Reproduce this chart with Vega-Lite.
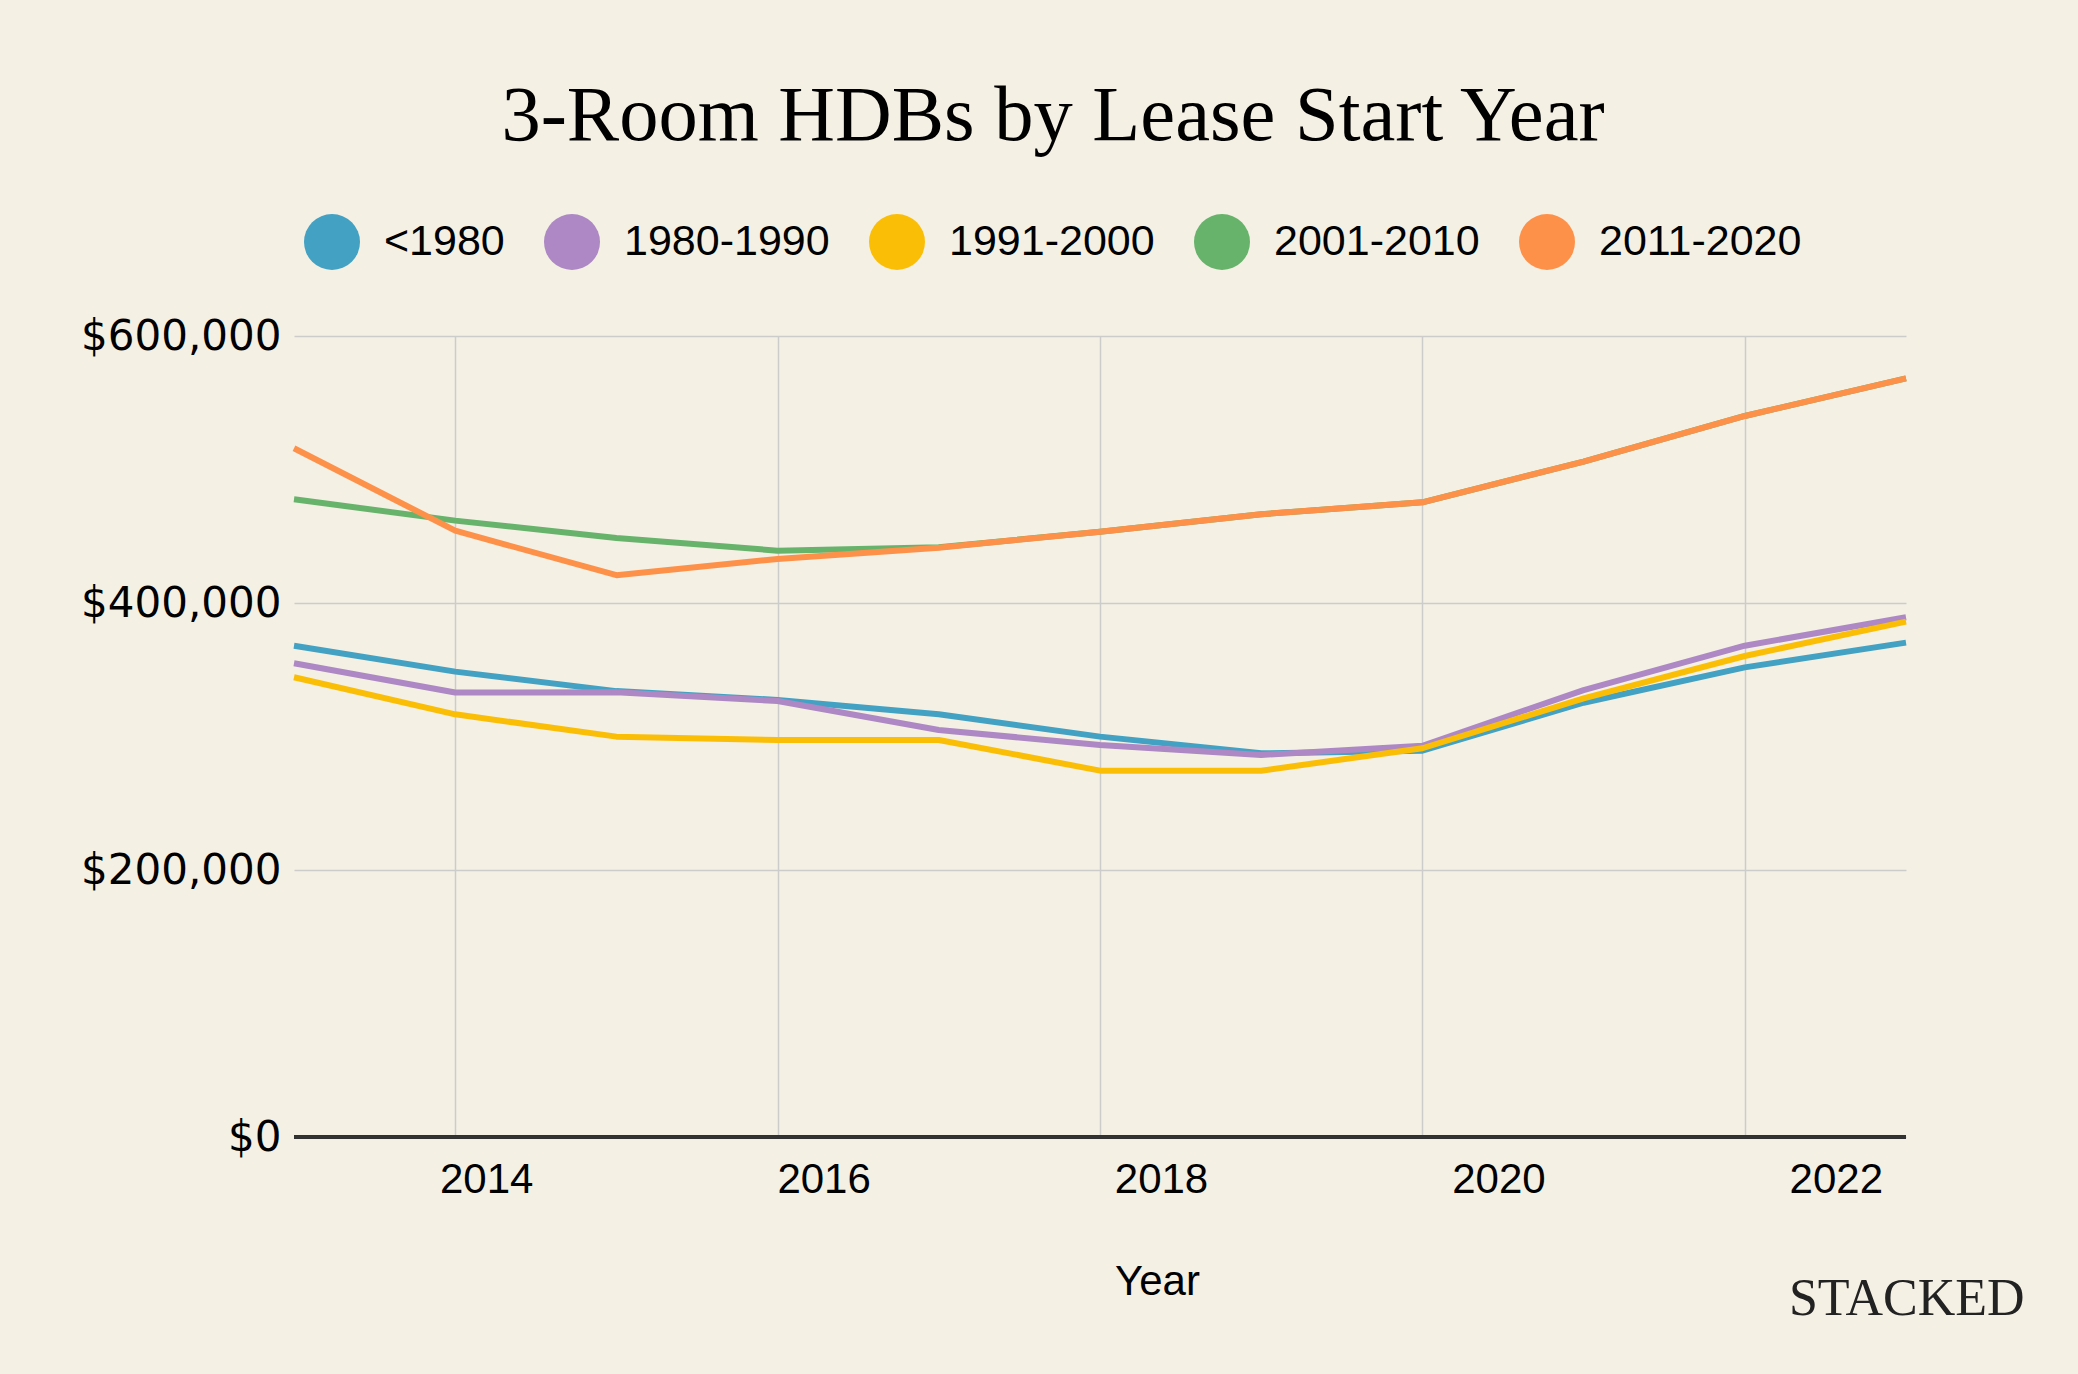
{
  "$schema": "https://vega.github.io/schema/vega-lite/v6.json",
  "width": 1612,
  "height": 801,
  "autosize": {"type": "none"},
  "padding": {"left": 294, "top": 336, "right": 172, "bottom": 237},
  "background": "#f4f0e4",
  "config": {
    "view": {"stroke": null},
    "font": "Liberation Sans"
  },
  "title": {
    "text": "3-Room HDBs by Lease Start Year",
    "font": "Liberation Serif",
    "fontSize": 78.5,
    "fontWeight": "normal",
    "color": "#000000",
    "anchor": "middle",
    "frame": "group",
    "dx": -47,
    "offset": 58
  },
  "data": {
    "values": [
      {"year": 2013, "group": "<1980", "price": 368000},
      {"year": 2014, "group": "<1980", "price": 348600},
      {"year": 2015, "group": "<1980", "price": 334000},
      {"year": 2016, "group": "<1980", "price": 327400},
      {"year": 2017, "group": "<1980", "price": 316600},
      {"year": 2018, "group": "<1980", "price": 299900},
      {"year": 2019, "group": "<1980", "price": 287400},
      {"year": 2020, "group": "<1980", "price": 289400},
      {"year": 2021, "group": "<1980", "price": 325300},
      {"year": 2022, "group": "<1980", "price": 351800},
      {"year": 2023, "group": "<1980", "price": 370300},
      {"year": 2013, "group": "1980-1990", "price": 354900},
      {"year": 2014, "group": "1980-1990", "price": 333000},
      {"year": 2015, "group": "1980-1990", "price": 333100},
      {"year": 2016, "group": "1980-1990", "price": 326600},
      {"year": 2017, "group": "1980-1990", "price": 304900},
      {"year": 2018, "group": "1980-1990", "price": 293600},
      {"year": 2019, "group": "1980-1990", "price": 286200},
      {"year": 2020, "group": "1980-1990", "price": 293100},
      {"year": 2021, "group": "1980-1990", "price": 334800},
      {"year": 2022, "group": "1980-1990", "price": 368000},
      {"year": 2023, "group": "1980-1990", "price": 389300},
      {"year": 2013, "group": "1991-2000", "price": 344400},
      {"year": 2014, "group": "1991-2000", "price": 316600},
      {"year": 2015, "group": "1991-2000", "price": 299900},
      {"year": 2016, "group": "1991-2000", "price": 297400},
      {"year": 2017, "group": "1991-2000", "price": 297400},
      {"year": 2018, "group": "1991-2000", "price": 274400},
      {"year": 2019, "group": "1991-2000", "price": 274400},
      {"year": 2020, "group": "1991-2000", "price": 291200},
      {"year": 2021, "group": "1991-2000", "price": 328600},
      {"year": 2022, "group": "1991-2000", "price": 360300},
      {"year": 2023, "group": "1991-2000", "price": 386000},
      {"year": 2013, "group": "2001-2010", "price": 477700},
      {"year": 2014, "group": "2001-2010", "price": 461700},
      {"year": 2015, "group": "2001-2010", "price": 448700},
      {"year": 2016, "group": "2001-2010", "price": 439200},
      {"year": 2017, "group": "2001-2010", "price": 441700},
      {"year": 2018, "group": "2001-2010", "price": 453400},
      {"year": 2019, "group": "2001-2010", "price": 466500},
      {"year": 2020, "group": "2001-2010", "price": 475400},
      {"year": 2021, "group": "2001-2010", "price": 505900},
      {"year": 2022, "group": "2001-2010", "price": 540100},
      {"year": 2023, "group": "2001-2010", "price": 568300},
      {"year": 2013, "group": "2011-2020", "price": 515900},
      {"year": 2014, "group": "2011-2020", "price": 454200},
      {"year": 2015, "group": "2011-2020", "price": 420800},
      {"year": 2016, "group": "2011-2020", "price": 433000},
      {"year": 2017, "group": "2011-2020", "price": 441400},
      {"year": 2018, "group": "2011-2020", "price": 453400},
      {"year": 2019, "group": "2011-2020", "price": 466500},
      {"year": 2020, "group": "2011-2020", "price": 475400},
      {"year": 2021, "group": "2011-2020", "price": 505900},
      {"year": 2022, "group": "2011-2020", "price": 540100},
      {"year": 2023, "group": "2011-2020", "price": 568300}
    ]
  },
  "layer": [
    {
      "mark": {"type": "line", "strokeWidth": 6, "strokeJoin": "round"},
      "encoding": {
        "x": {
          "field": "year",
          "type": "quantitative",
          "scale": {"domain": [2013, 2023], "nice": false, "zero": false},
          "axis": {
            "values": [2014, 2016, 2018, 2020, 2022],
            "format": "d",
            "grid": true,
            "gridColor": "#cccccc",
            "gridWidth": 1.5,
            "domain": false,
            "ticks": false,
            "tickSize": 0,
            "labelFont": "Liberation Sans",
            "labelFontSize": 42,
            "labelColor": "#000000",
            "labelPadding": 22,
            "labelFlush": false,
            "labelOffset": {"expr": "31 + 7.5 * (datum.value - 2014)"},
            "title": "Year",
            "titleFont": "Liberation Sans",
            "titleFontSize": 42,
            "titleFontWeight": "normal",
            "titleColor": "#000000",
            "titleX": 863,
            "titleY": 157,
            "titleAlign": "center",
            "titleBaseline": "alphabetic"
          }
        },
        "y": {
          "field": "price",
          "type": "quantitative",
          "scale": {"domain": [0, 600000], "nice": false},
          "axis": {
            "values": [0, 200000, 400000, 600000],
            "format": "$,.0f",
            "grid": true,
            "gridColor": "#cccccc",
            "gridWidth": 1.5,
            "domain": false,
            "ticks": false,
            "tickSize": 0,
            "labelFont": "DejaVu Sans",
            "labelFontSize": 42,
            "labelColor": "#000000",
            "labelPadding": 13,
            "labelLimit": 400,
            "labelBaseline": "middle",
            "title": null
          }
        },
        "color": {
          "field": "group",
          "type": "nominal",
          "scale": {
            "domain": ["<1980", "1980-1990", "1991-2000", "2001-2010", "2011-2020"],
            "range": ["#43a1c3", "#ad88c4", "#fbbe07", "#67b36b", "#fe914a"]
          },
          "legend": {
            "title": null,
            "orient": "none",
            "direction": "horizontal",
            "legendX": 10,
            "legendY": -122,
            "padding": 0,
            "symbolType": "circle",
            "symbolSize": 3136,
            "symbolStrokeWidth": 0,
            "symbolOpacity": 1,
            "labelFont": "Liberation Sans",
            "labelFontSize": 43,
            "labelColor": "#000000",
            "labelOffset": 24,
            "columnPadding": 39,
            "labelLimit": 400,
            "encode": {
              "symbols": {
                "update": {
                  "fill": {"scale": "color", "field": "value"},
                  "fillOpacity": {"value": 1}
                }
              }
            }
          }
        }
      }
    },
    {
      "mark": {"type": "rule", "color": "#333333", "strokeWidth": 2.5},
      "encoding": {
        "y": {
          "datum": 0,
          "type": "quantitative",
          "scale": {"domain": [0, 600000], "nice": false},
          "axis": {
            "orient": "right",
            "labels": false,
            "ticks": false,
            "domain": false,
            "grid": false,
            "title": "STACKED",
            "titleAngle": 0,
            "titleFont": "Liberation Serif",
            "titleFontSize": 52,
            "titleFontWeight": "normal",
            "titleColor": "#222222",
            "titleX": 118,
            "titleY": 978,
            "titleAlign": "right",
            "titleBaseline": "alphabetic"
          }
        }
      }
    }
  ],
  "resolve": {"scale": {"y": "independent"}, "axis": {"y": "independent"}}
}
